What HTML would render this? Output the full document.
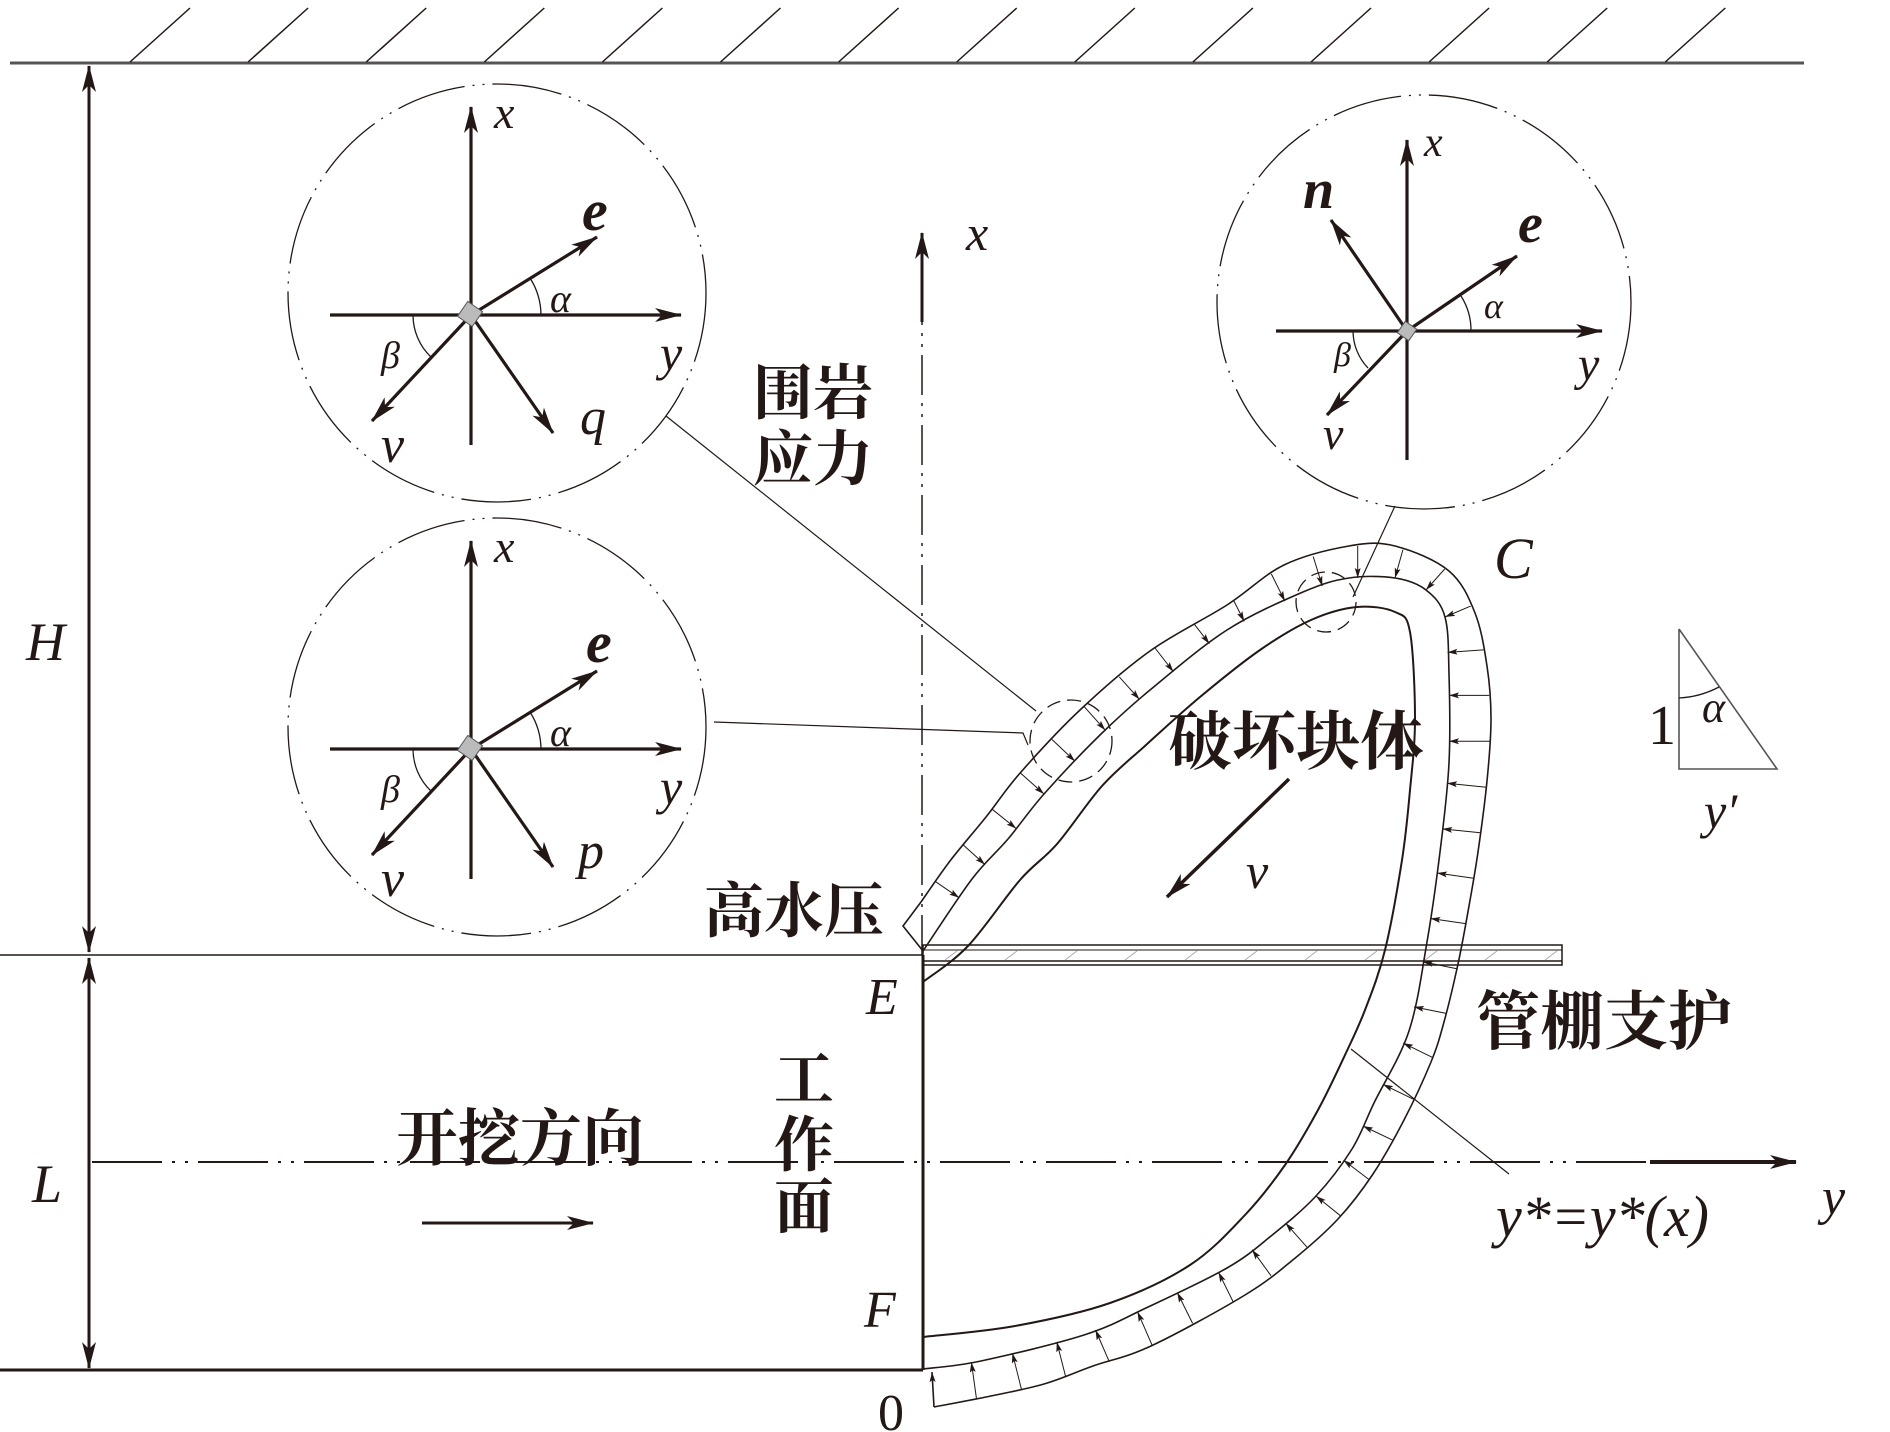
<!DOCTYPE html>
<html><head><meta charset="utf-8"><style>
html,body{margin:0;padding:0;background:#fff}
svg{display:block}
text{font-family:"Liberation Serif","Noto Serif CJK SC",serif;fill:#231815}
.it{font-style:italic}
.bi{font-style:italic;font-weight:bold}
.cn{font-family:"Liberation Serif","Noto Serif CJK SC","Noto Sans CJK SC",serif}
</style></head><body>
<svg id="s" width="1890" height="1432" viewBox="0 0 1890 1432" xmlns="http://www.w3.org/2000/svg">
<defs>
<marker id="ah" markerUnits="userSpaceOnUse" markerWidth="30" markerHeight="16" refX="26" refY="7" orient="auto">
<path d="M0,0 L27,7 L0,14 L7,7 z" fill="#231815"/></marker>
<marker id="ahs" markerUnits="userSpaceOnUse" markerWidth="12" markerHeight="8" refX="10" refY="3" orient="auto">
<path d="M0,0 L10,3 L0,6 L2,3 z" fill="#231815"/></marker>
</defs>
<g stroke="#231815" fill="none">
<line x1="10" y1="63" x2="1804" y2="63" stroke="#555" stroke-width="3"/>
<g id="hatch" stroke-width="1.5"></g>
<line x1="89" y1="952" x2="89" y2="66" stroke-width="3" marker-end="url(#ah)"/>
<line x1="89" y1="66" x2="89" y2="952" stroke-width="3" marker-end="url(#ah)"/>
<line x1="89" y1="958" x2="89" y2="1368" stroke-width="3" marker-end="url(#ah)"/>
<line x1="89" y1="1368" x2="89" y2="958" stroke-width="3" marker-end="url(#ah)"/>
<line x1="0" y1="955" x2="923" y2="955" stroke-width="1.5"/>
<line x1="0" y1="1370" x2="923" y2="1370" stroke-width="3"/>
<line x1="923" y1="955" x2="923" y2="1370" stroke-width="3"/>
<line x1="922" y1="955" x2="922" y2="322" stroke-width="1.5" stroke-dasharray="40 8 3 8 3 8"/>
<line x1="922" y1="322" x2="922" y2="233" stroke-width="3" marker-end="url(#ah)"/>
<line x1="92" y1="1162" x2="1650" y2="1162" stroke-width="2" stroke-dasharray="70 10 3 10 3 10"/>
<line x1="1650" y1="1162" x2="1796" y2="1162" stroke-width="4" marker-end="url(#ah)"/>
<rect x="923" y="945" width="639" height="20" stroke-width="1.5"/>
<line x1="923" y1="950" x2="1562" y2="950" stroke-width="1"/>
<line x1="923" y1="961" x2="1562" y2="961" stroke-width="1.5"/>
<g id="phatch" stroke="#aaa" stroke-width="1"></g>
<polyline id="outer" class="sm" stroke-width="1.6" points="921,902 950,861 986,817 1021,772 1080,710 1150,651 1227,605 1284,565 1349,546 1395,546 1449,571 1475,613 1487,666 1491,719 1487,781 1478,852 1469,906 1458,964 1444,1022 1431,1062 1404,1120 1373,1174 1338,1219 1294,1259 1245,1295 1151,1346 1093,1366 1044,1384 986,1397 934,1407"/>
<polyline id="middle" class="sm" stroke-width="1.6" points="923,951 972,879 1008,839 1044,794 1100,735 1150,690 1227,630 1303,592 1349,578 1395,578 1426,590 1445,617 1449,674 1449,763 1440,852 1427,942 1409,1031 1374,1103 1352,1149 1316,1196 1271,1236 1227,1268 1146,1308 1084,1335 981,1361 923,1369"/>
<polyline stroke-width="1.6" points="921,902 903,926 923,951"/>
<line x1="934" y1="1407" x2="932" y2="1372" stroke-width="1.6" marker-end="url(#ahs)"/>
<polyline class="sm" stroke-width="2" points="923,982 968,946 1020,880 1057,844 1102,786 1146,745 1200,697 1260,650 1311,620 1357,607 1395,612 1410,632 1415,719 1410,790 1402,860 1385,950 1365,1010 1345,1055 1318,1110 1285,1165 1245,1215 1190,1265 1110,1303 1015,1326 923,1337"/>
<g id="barrows" stroke-width="1"></g>
<circle cx="1071" cy="741" r="41" stroke-width="1.3" stroke-dasharray="14 7"/>
<circle cx="1326" cy="602" r="30" stroke-width="1.3" stroke-dasharray="14 7"/>
<line x1="666" y1="416" x2="1036" y2="711" stroke-width="1.2"/>
<polyline points="714,722 1023,733 1028,745" stroke-width="1.2"/>
<line x1="1395" y1="506" x2="1353" y2="597" stroke-width="1.2"/>
<line x1="1351" y1="1049" x2="1509" y2="1174" stroke-width="1.2"/>
<line x1="1289" y1="779" x2="1167" y2="897" stroke-width="3.5" marker-end="url(#ah)"/>
<line x1="422" y1="1223" x2="593" y2="1223" stroke-width="3" marker-end="url(#ah)"/>
<polyline points="1679,629 1679,769 1777,769 1679,629" stroke="#555" stroke-width="1.6"/>
<path d="M1679,698 Q1700,697 1719,687" stroke-width="1.3"/>
<g stroke-width="1.3" stroke-dasharray="70 8 2 8 2 8">
<circle cx="497" cy="293" r="209"/>
<circle cx="497" cy="727" r="209"/>
<circle cx="1424" cy="302" r="207"/>
</g>
</g>
<g stroke="#231815" fill="none" stroke-width="3.2">
<line x1="471" y1="445" x2="471" y2="107" marker-end="url(#ah)"/>
<line x1="330" y1="315" x2="681" y2="315" marker-end="url(#ah)"/>
<line x1="471" y1="315" x2="597" y2="237" marker-end="url(#ah)"/>
<line x1="471" y1="315" x2="372" y2="421" marker-end="url(#ah)"/>
<line x1="471" y1="315" x2="553" y2="433" marker-end="url(#ah)"/>
<path d="M541,315 A70,70 0 0 0 530,278" stroke-width="1.3"/>
<path d="M413,315 A58,58 0 0 0 431,357" stroke-width="1.3"/>
<rect x="461" y="305" width="18" height="18" transform="rotate(35 470 314)" fill="#bbb" stroke-width="1" stroke="#555"/>
</g>
<g stroke="#231815" fill="none" stroke-width="3.2" transform="translate(0,434)">
<line x1="471" y1="445" x2="471" y2="107" marker-end="url(#ah)"/>
<line x1="330" y1="315" x2="681" y2="315" marker-end="url(#ah)"/>
<line x1="471" y1="315" x2="597" y2="237" marker-end="url(#ah)"/>
<line x1="471" y1="315" x2="372" y2="421" marker-end="url(#ah)"/>
<line x1="471" y1="315" x2="553" y2="433" marker-end="url(#ah)"/>
<path d="M541,315 A70,70 0 0 0 530,278" stroke-width="1.3"/>
<path d="M413,315 A58,58 0 0 0 431,357" stroke-width="1.3"/>
<rect x="461" y="305" width="18" height="18" transform="rotate(35 470 314)" fill="#bbb" stroke-width="1" stroke="#555"/>
</g>
<g stroke="#231815" fill="none" stroke-width="3.2">
<line x1="1407" y1="460" x2="1407" y2="140" marker-end="url(#ah)"/>
<line x1="1276" y1="331" x2="1602" y2="331" marker-end="url(#ah)"/>
<line x1="1407" y1="331" x2="1517" y2="256" marker-end="url(#ah)"/>
<line x1="1407" y1="331" x2="1331" y2="220" marker-end="url(#ah)"/>
<line x1="1407" y1="331" x2="1327" y2="415" marker-end="url(#ah)"/>
<path d="M1471,331 A64,64 0 0 0 1461,296" stroke-width="1.3"/>
<path d="M1353,331 A54,54 0 0 0 1368,368" stroke-width="1.3"/>
<rect x="1400" y="324" width="14" height="14" transform="rotate(35 1407 331)" fill="#bbb" stroke-width="1" stroke="#555"/>
</g>
<text class="it" x="494" y="128" font-size="46">x</text>
<text class="bi" x="582" y="230" font-size="58">e</text>
<text class="it" x="550" y="312" font-size="40">α</text>
<text class="it" x="660" y="370" font-size="50">y</text>
<text class="it" x="381" y="368" font-size="38">β</text>
<text class="it" x="381" y="462" font-size="52">v</text>
<text class="it" x="580" y="434" font-size="52">q</text>
<text class="it" x="494" y="562" font-size="46">x</text>
<text class="bi" x="586" y="662" font-size="58">e</text>
<text class="it" x="550" y="746" font-size="40">α</text>
<text class="it" x="660" y="804" font-size="50">y</text>
<text class="it" x="381" y="802" font-size="38">β</text>
<text class="it" x="381" y="896" font-size="52">v</text>
<text class="it" x="578" y="868" font-size="52">p</text>
<text class="it" x="1424" y="156" font-size="42">x</text>
<text class="bi" x="1303" y="208" font-size="56">n</text>
<text class="bi" x="1518" y="242" font-size="56">e</text>
<text class="it" x="1484" y="318" font-size="36">α</text>
<text class="it" x="1578" y="380" font-size="48">y</text>
<text class="it" x="1334" y="366" font-size="34">β</text>
<text class="it" x="1323" y="449" font-size="46">v</text>
<text class="it" x="966" y="250" font-size="50">x</text>
<text class="it" x="1822" y="1214" font-size="52">y</text>
<text class="it" x="26" y="660" font-size="54">H</text>
<text class="it" x="32" y="1202" font-size="54">L</text>
<text class="it" x="866" y="1014" font-size="52">E</text>
<text class="it" x="864" y="1327" font-size="52">F</text>
<text x="878" y="1430" font-size="52">0</text>
<text class="it" x="1494" y="578" font-size="58">C</text>
<text class="it" x="1246" y="888" font-size="50">v</text>
<text x="1648" y="744" font-size="56">1</text>
<text class="it" x="1702" y="722" font-size="44">α</text>
<text class="it" x="1704" y="828" font-size="50">y′</text>
<text class="it" x="1496" y="1236" font-size="58">y*=y*(x)</text>
<g font-weight="bold">
<text class="cn" x="753" y="414" font-size="60">围岩</text>
<text class="cn" x="753" y="480" font-size="60">应力</text>
<text class="cn" x="704" y="932" font-size="60">高水压</text>
<text class="cn" x="774" y="1100" font-size="60">工</text>
<text class="cn" x="774" y="1166" font-size="60">作</text>
<text class="cn" x="774" y="1228" font-size="60">面</text>
<text class="cn" x="396" y="1160" font-size="62">开挖方向</text>
<text class="cn" x="1168" y="764" font-size="64">破坏块体</text>
<text class="cn" x="1476" y="1044" font-size="64">管棚支护</text>
</g>
</svg>
<script>
(function(){
var NS="http://www.w3.org/2000/svg";
function mk(p,t,a){var e=document.createElementNS(NS,t);for(var k in a)e.setAttribute(k,a[k]);p.appendChild(e);return e;}
var h=document.getElementById("hatch");
for(var i=0;i<14;i++){var x=130+118.1*i;mk(h,"line",{x1:x,y1:62,x2:x+60,y2:8});}
var ph=document.getElementById("phatch");
for(var x=945;x<1560;x+=60){mk(ph,"line",{x1:x,y1:960,x2:x+12,y2:951});}
function parse(el){return el.getAttribute("points").trim().split(/\s+/).map(function(s){var a=s.split(",");return[+a[0],+a[1]];});}
var O=parse(document.getElementById("outer")),M=parse(document.getElementById("middle"));
function near(p){var best=null,bd=1e9;for(var i=0;i<M.length-1;i++){var a=M[i],b=M[i+1],dx=b[0]-a[0],dy=b[1]-a[1],L=dx*dx+dy*dy,t=((p[0]-a[0])*dx+(p[1]-a[1])*dy)/L;t=Math.max(0,Math.min(1,t));var q=[a[0]+t*dx,a[1]+t*dy],d=(q[0]-p[0])*(q[0]-p[0])+(q[1]-p[1])*(q[1]-p[1]);if(d<bd){bd=d;best=q;}}return best;}
var g=document.getElementById("barrows");
var acc=0,step=46,next=25;
for(var i=0;i<O.length-1;i++){var a=O[i],b=O[i+1],dx=b[0]-a[0],dy=b[1]-a[1],L=Math.sqrt(dx*dx+dy*dy);
 while(acc+L>=next){var t=(next-acc)/L;var p=[a[0]+t*dx,a[1]+t*dy];var q=near(p);
  mk(g,"line",{x1:p[0].toFixed(1),y1:p[1].toFixed(1),x2:q[0].toFixed(1),y2:q[1].toFixed(1),"marker-end":"url(#ahs)"});
  next+=step;}
 acc+=L;}
// smooth polylines (Catmull-Rom)
var sm=document.querySelectorAll("polyline.sm");
for(var k=0;k<sm.length;k++){var el=sm[k],P=parse(el),d="M"+P[0][0]+","+P[0][1];
 for(var i=0;i<P.length-1;i++){var p0=P[i-1]||P[i],p1=P[i],p2=P[i+1],p3=P[i+2]||P[i+1];
  var c1=[p1[0]+(p2[0]-p0[0])/6,p1[1]+(p2[1]-p0[1])/6],c2=[p2[0]-(p3[0]-p1[0])/6,p2[1]-(p3[1]-p1[1])/6];
  d+=" C"+c1[0].toFixed(1)+","+c1[1].toFixed(1)+" "+c2[0].toFixed(1)+","+c2[1].toFixed(1)+" "+p2[0]+","+p2[1];}
 var pa=mk(el.parentNode,"path",{d:d,"stroke-width":el.getAttribute("stroke-width")});
 el.parentNode.removeChild(el);}
})();
</script>
</body></html>
